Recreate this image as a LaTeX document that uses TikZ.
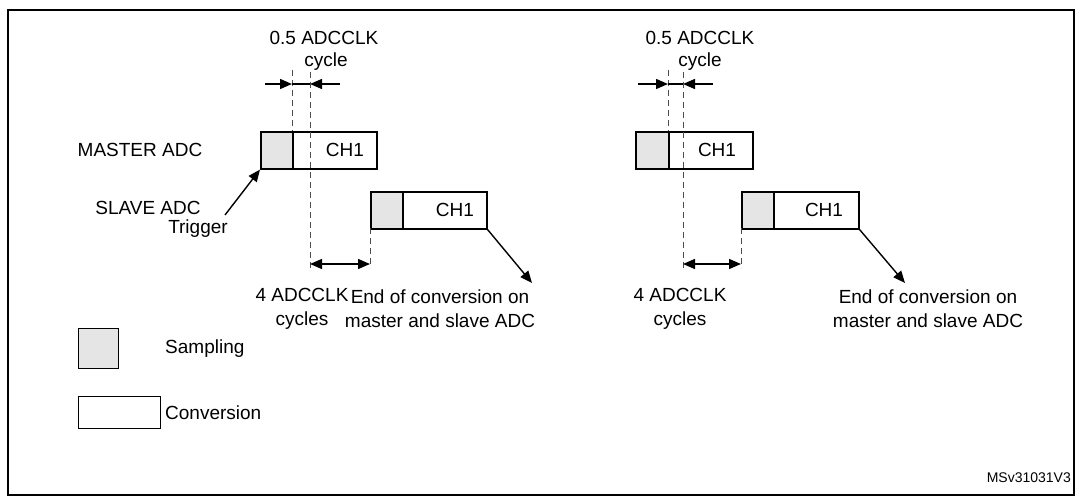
\documentclass[tikz,border=0pt]{standalone}
\usepackage{fontspec}
\setmainfont{Liberation Sans}
\usetikzlibrary{arrows.meta}
\begin{document}
\begin{tikzpicture}[x=1pt,y=-1pt,
  txt/.style={font=\fontsize{19}{24}\selectfont,align=center,inner sep=0},
  samp/.style={draw,line width=1.6pt,fill=gray!20},
  conv/.style={draw,line width=1.6pt,fill=white},
  dashln/.style={dash pattern=on 6pt off 4pt,gray!60!black,line width=1pt},
  arr/.style={-{Triangle[length=12pt,width=10pt]},line width=1.4pt},
  darr/.style={{Triangle[length=12pt,width=10pt]}-{Triangle[length=12pt,width=10pt]},line width=1.4pt}]
\useasboundingbox (0,0) rectangle (1077,497);
\draw[line width=1.6pt] (8,10) rectangle (1074,495);
% ---- panel 1
\coordinate (a1) at (292,70); \coordinate (a1b) at (292,131);
\coordinate (b1) at (310,72); \coordinate (b1b) at (310,268);
\draw[dashln] (a1) -- (a1b);
\node[txt] (h1) at (324,38) {0.5 ADCCLK};
\node[txt] (c1) at (326,62) {cycle};
\draw[arr] (265,84) -- (292,84); \draw[arr] (340,84) -- (310,84); \draw[line width=1.4pt] (292,84)--(310,84);
\node[samp,minimum width=32pt,minimum height=37pt,inner sep=0,anchor=north west] (ms1) at (260,131) {};
\node[conv,minimum width=84pt,minimum height=37pt,inner sep=0,anchor=north west] (mc1) at (292,131) {};
\draw[dashln] (b1) -- (b1b);
\node[txt] at (345,150) {CH1};
\node[samp,minimum width=32pt,minimum height=37pt,inner sep=0,anchor=north west] (ss1) at (370,191) {};
\node[conv,minimum width=84pt,minimum height=37pt,inner sep=0,anchor=north west] (sc1) at (402,191) {};
\node[txt] at (455,210) {CH1};
\draw[dashln] (370,228) -- (370,268);
\draw[darr] (310,264) -- (370,264);
\coordinate (e1) at (532,283);
\draw[arr] (sc1.south east) -- (e1);
\node[txt] (m1) at (140,150) {MASTER ADC};
\node[txt] (s1) at (148,208) {SLAVE ADC};
\node[txt] (t1) at (198,229) {Trigger};
\coordinate (ts1) at (225,215);
\draw[arr] (ts1) -- (ms1.south west);
\node[txt] at (302,309) {4 ADCCLK\\cycles};
\node[txt] at (440,309) {End of conversion on\\master and slave ADC};
% ---- panel 2
\coordinate (a2) at (668,70); \coordinate (a2b) at (668,131);
\coordinate (b2) at (683,72); \coordinate (b2b) at (683,268);
\draw[dashln] (a2) -- (a2b);
\node[txt] at (700,38) {0.5 ADCCLK};
\node[txt] at (700,62) {cycle};
\draw[arr] (638,84) -- (668,84); \draw[arr] (713,84) -- (683,84); \draw[line width=1.4pt] (668,84)--(683,84);
\node[samp,minimum width=33pt,minimum height=37pt,inner sep=0,anchor=north west] (ms2) at (635,131) {};
\node[conv,minimum width=84pt,minimum height=37pt,inner sep=0,anchor=north west] (mc2) at (668,131) {};
\draw[dashln] (b2) -- (b2b);
\node[txt] at (717,150) {CH1};
\node[samp,minimum width=32pt,minimum height=37pt,inner sep=0,anchor=north west] (ss2) at (741,191) {};
\node[conv,minimum width=85pt,minimum height=37pt,inner sep=0,anchor=north west] (sc2) at (773,191) {};
\node[txt] at (824,210) {CH1};
\draw[dashln] (741,228) -- (741,268);
\draw[darr] (683,264) -- (741,264);
\coordinate (e2) at (905,283);
\draw[arr] (sc2.south east) -- (e2);
\node[txt] at (680,309) {4 ADCCLK\\cycles};
\node[txt] at (928,309) {End of conversion on\\master and slave ADC};
% legend
\node[samp,line width=1.2pt,minimum width=40pt,minimum height=40pt,inner sep=0,anchor=north west] (ls) at (78,328) {};
\node[conv,line width=1.2pt,minimum width=82pt,minimum height=32pt,inner sep=0,anchor=north west] (lc) at (78,396) {};
\node[txt,anchor=west] at (165,349) {Sampling};
\node[txt,anchor=west] at (165,413) {Conversion};
\node[txt,anchor=east,font=\fontsize{14}{16}\selectfont] at (1071,478) {MSv31031V3};
\end{tikzpicture}
\end{document}
